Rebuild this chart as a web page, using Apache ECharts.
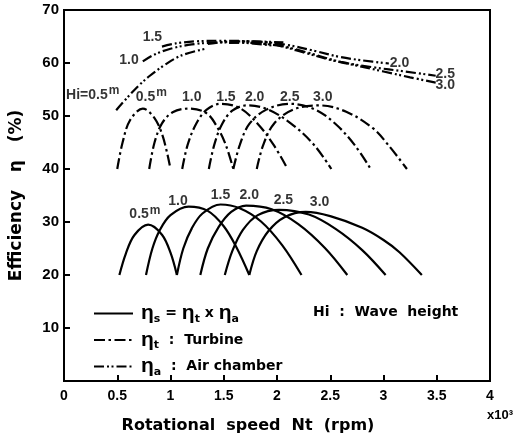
<!DOCTYPE html>
<html><head><meta charset="utf-8">
<script src="https://cdn.jsdelivr.net/npm/echarts@6/dist/echarts.min.js"></script>
<style>html,body{margin:0;padding:0;background:#fff}#c{width:518px;height:439px}</style>
</head><body><div id="c"></div>
<script>
// Wave heights Hi (m)
const waveHeights = ['0.5', '1.0', '1.5', '2.0', '2.5', '3.0'];

// System efficiency (solid) : [Nt x10^3 rpm, %]
const sys05 = [[0.52,20],[0.58,24],[0.66,27.5],[0.79,29.5],[0.92,27.6],[1.0,24.2],[1.06,20]];
const sys10 = [[0.77,20],[0.83,25],[0.9,28.5],[1.0,31.3],[1.17,32.9],[1.35,32.1],[1.5,29.2],[1.62,25.2],[1.74,20]];
const sys15 = [[1.06,20],[1.12,25],[1.2,28.8],[1.3,31.6],[1.47,33.3],[1.65,32.6],[1.85,30.1],[2.05,25.6],[2.23,20]];
const sys20 = [[1.28,20],[1.35,25],[1.45,29],[1.57,31.9],[1.71,33.1],[1.95,32.4],[2.2,29.6],[2.45,25.1],[2.66,20]];
const sys25 = [[1.51,20],[1.58,24.5],[1.68,28.5],[1.82,31.3],[2.02,32.3],[2.3,31.4],[2.55,28.7],[2.8,24.7],[3.02,20]];
const sys30 = [[1.74,20],[1.81,24.5],[1.92,28.3],[2.07,30.9],[2.27,31.9],[2.5,31.1],[2.8,28.9],[3.0,26.6],[3.15,24.3],[3.36,20]];

// Turbine efficiency (dash-dot)
const tur05 = [[0.50,40],[0.55,45],[0.62,49.2],[0.74,51.4],[0.85,49.6],[0.93,46],[1.0,40]];
const tur10 = [[0.80,40],[0.85,45],[0.92,48.6],[1.02,50.7],[1.17,51.4],[1.34,50.5],[1.45,47.5],[1.52,44.5],[1.59,40]];
const tur15 = [[1.11,40],[1.16,44.5],[1.24,48.5],[1.34,51.2],[1.47,52.3],[1.65,51.5],[1.82,48.5],[1.97,44.5],[2.10,40]];
const tur20 = [[1.36,40],[1.41,44.5],[1.48,48.3],[1.58,51],[1.72,52],[1.92,51.2],[2.15,48.3],[2.35,44.5],[2.51,40]];
const tur25 = [[1.59,40],[1.65,44.5],[1.74,48.5],[1.9,51.2],[2.12,52.3],[2.35,51.3],[2.55,48.5],[2.73,44.5],[2.88,40]];
const tur30 = [[1.81,40],[1.87,44.5],[1.97,48.5],[2.15,51.2],[2.40,52.0],[2.65,50.8],[2.9,47.7],[3.05,44.4],[3.22,40]];

// Air chamber efficiency (dash-dot-dot)
const air05 = [[0.49,51.1],[0.6,53.6],[0.7,55.7],[0.8,57.5],[0.95,59.7],[1.1,61.4],[1.33,62.7]];
const air10 = [[0.74,60.3],[0.85,61.6],[1.0,62.7],[1.2,63.5],[1.45,63.9],[1.7,63.8],[1.95,63.3]];
const air15 = [[0.92,63.1],[1.05,63.7],[1.25,64.1],[1.5,64.2],[1.75,64.1],[2.06,63.9]];
const air20 = [[1.35,63.6],[1.6,64.1],[1.85,64.0],[2.1,63.4],[2.35,62.3],[2.6,61.1],[2.8,60.5],[3.05,59.9]];
const air25 = [[1.55,63.8],[1.8,63.9],[2.05,63.2],[2.3,61.9],[2.6,60.2],[2.9,59.2],[3.2,58.4],[3.49,57.6]];
const air30 = [[1.75,63.8],[2.0,63.3],[2.25,62.0],[2.5,60.6],[2.75,59.5],[3.0,58.4],[3.25,57.3],[3.49,56.3]];

// Curve labels [x, y, text]
const airLabels = [[0.27,54.0,'Hi=0.5{sup|m}'],[0.61,60.5,'1.0'],[0.83,64.8,'1.5'],[3.15,59.9,'2.0'],[3.58,57.9,'2.5'],[3.58,55.9,'3.0']];
const turbineLabels = [[0.82,53.6,'0.5{sup|m}'],[1.20,53.6,'1.0'],[1.52,53.6,'1.5'],[1.79,53.6,'2.0'],[2.12,53.6,'2.5'],[2.43,53.6,'3.0']];
const systemLabels = [[0.76,31.4,'0.5{sup|m}'],[1.07,34.0,'1.0'],[1.47,35.1,'1.5'],[1.74,35.1,'2.0'],[2.06,34.2,'2.5'],[2.40,33.8,'3.0']];

const xMin = 0, xMax = 4, xInterval = 0.5;
const yMin = 0, yMax = 70, yInterval = 10;

const FONT = 'Liberation Sans';
const WIDE = 'DejaVu Sans';
const DASH_T = [11, 3.5, 2.5, 3.5];
const DASH_A = [10, 3, 2, 2.5, 2, 3];

function curve(name, data, dash) {
  return { type: 'line', name: name, data: data, smooth: 0.35, symbol: 'none', silent: true,
    itemStyle: { color: '#000' },
    lineStyle: { color: '#000', width: 2.2, type: dash }, z: 3 };
}
function labels(list) {
  return { type: 'scatter', symbolSize: 0, silent: true, z: 5,
    data: list.map(d => ({ value: [d[0], d[1]], name: d[2] })),
    label: { show: true, position: 'inside', formatter: p => p.name, color: '#000',
      fontFamily: FONT, fontWeight: 'bold', fontSize: 14,
      rich: { sup: { fontSize: 12, fontFamily: FONT, fontWeight: 'bold', verticalAlign: 'top', padding: [0,0,8,1] } } } };
}

const sysSets = [sys05, sys10, sys15, sys20, sys25, sys30];
const turSets = [tur05, tur10, tur15, tur20, tur25, tur30];
const airSets = [air05, air10, air15, air20, air25, air30];

const series = [];
sysSets.forEach(d => series.push(curve('sys', d, 'solid')));
turSets.forEach(d => series.push(curve('tur', d, DASH_T)));
airSets.forEach(d => series.push(curve('air', d, DASH_A)));
series.push(labels(airLabels), labels(turbineLabels), labels(systemLabels));

const legendText = {
  sys: '{e|η}{s|s} {t|=} {e|η}{s|t} {t|x} {e|η}{s|a}',
  tur: '{e|η}{s|t}  {t|:  Turbine}',
  air: '{e|η}{s|a}  {t|:  Air chamber}'
};

const chart = echarts.init(document.getElementById('c'), null, { renderer: 'canvas' });
chart.setOption({
  animation: false,
  backgroundColor: '#fff',
  grid: { left: 62, right: 28, top: 10, bottom: 51, show: true, borderColor: '#000', borderWidth: 2, backgroundColor: 'transparent' },
  xAxis: {
    type: 'value', min: xMin, max: xMax, interval: xInterval,
    name: 'Rotational  speed  Nt  (rpm)', nameLocation: 'middle', nameGap: 37,
    nameTextStyle: { fontFamily: WIDE, fontWeight: 'bold', fontSize: 16, color: '#000', padding: [0, 58, 0, 0] },
    axisLine: { show: true, lineStyle: { color: '#000', width: 2 } },
    axisTick: { show: true, inside: true, length: 6, lineStyle: { color: '#000', width: 2 } },
    axisLabel: { color: '#000', fontFamily: FONT, fontWeight: 'bold', fontSize: 14, margin: 8 },
    splitLine: { show: false }
  },
  yAxis: {
    type: 'value', min: yMin, max: yMax, interval: yInterval,
    name: 'Efficiency   η   (%)', nameLocation: 'middle', nameGap: 39, nameRotate: 90,
    nameTextStyle: { fontFamily: WIDE, fontWeight: 'bold', fontSize: 17, color: '#000' },
    axisLine: { show: true, lineStyle: { color: '#000', width: 2 } },
    axisTick: { show: true, inside: true, length: 6, lineStyle: { color: '#000', width: 2 } },
    axisLabel: { color: '#000', fontFamily: FONT, fontWeight: 'bold', fontSize: 15, margin: 5,
      formatter: v => (v === 0 ? '' : String(v)) },
    splitLine: { show: false }
  },
  legend: {
    data: ['sys', 'tur', 'air'], orient: 'vertical', left: 88, top: 298,
    itemWidth: 39, itemHeight: 14, itemGap: 5, selectedMode: false,
    itemStyle: { opacity: 0, borderWidth: 0 },
    formatter: n => legendText[n],
    textStyle: { color: '#000', fontFamily: WIDE, fontWeight: 'bold', fontSize: 14, padding: [0,0,0,3],
      rich: {
        e: { fontFamily: FONT, fontSize: 21, lineHeight: 22, verticalAlign: 'middle', color: '#000' },
        s: { fontFamily: WIDE, fontSize: 11, fontWeight: 'bold', lineHeight: 22, verticalAlign: 'bottom', color: '#000' },
        t: { fontFamily: WIDE, fontSize: 14, fontWeight: 'bold', lineHeight: 22, verticalAlign: 'middle', color: '#000' }
      } }
  },
  graphic: [
    { type: 'text', left: 313, top: 305, style: { text: 'Hi  :  Wave  height', font: 'bold 14px "DejaVu Sans"', fill: '#000' } },
    { type: 'text', left: 487, top: 409, style: { text: 'x10³', font: 'bold 13px "Liberation Sans"', fill: '#000' } }
  ],
  series: series
});
</script></body></html>
